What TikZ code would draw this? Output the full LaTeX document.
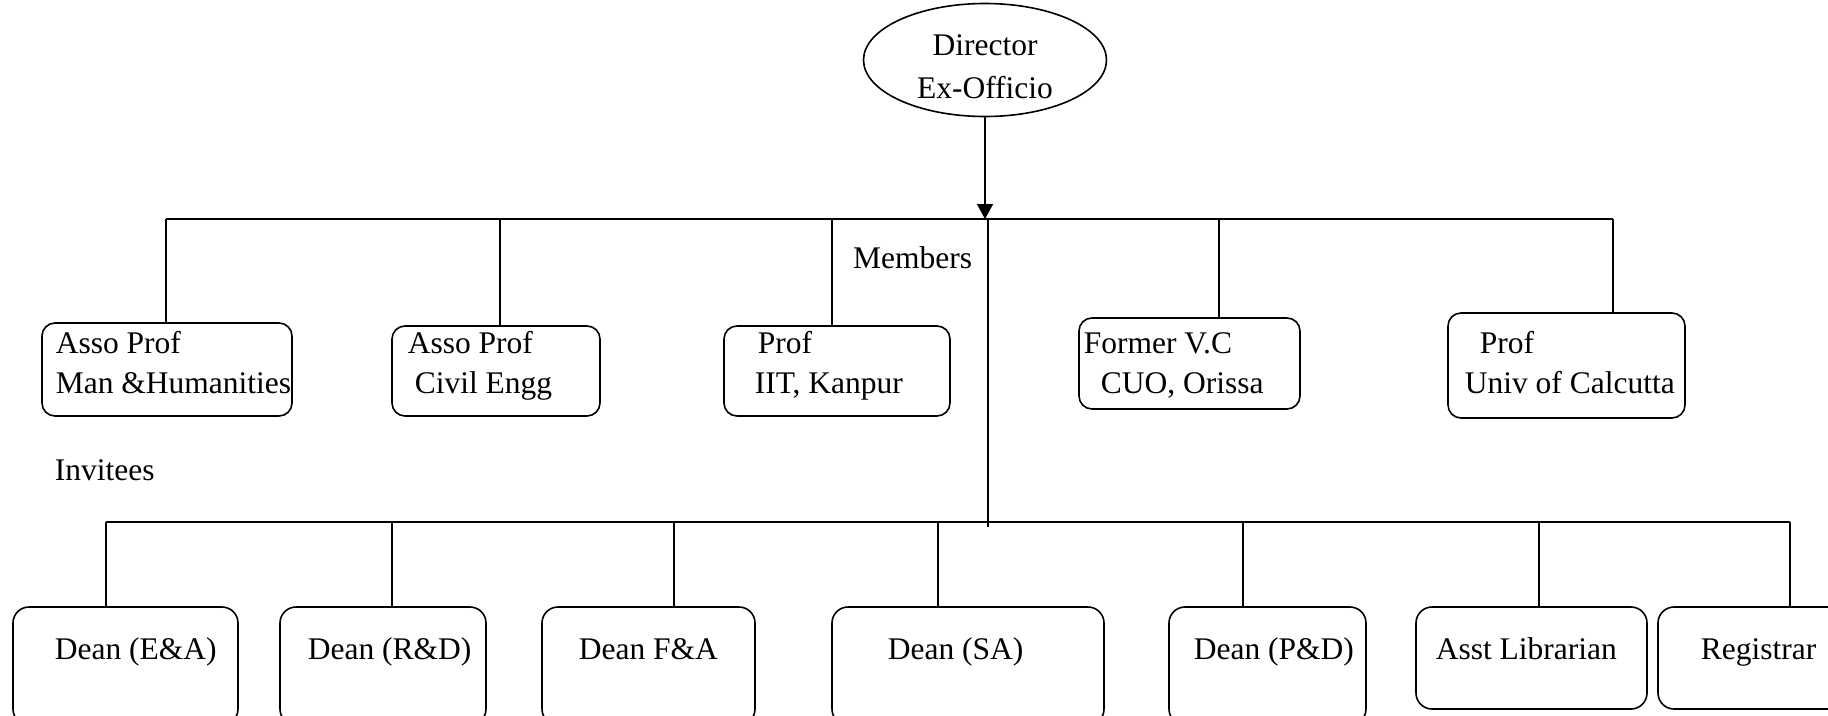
\documentclass[tikz,border=0pt]{standalone}
\usepackage{fontspec}
\setmainfont{Liberation Serif}
\usetikzlibrary{arrows.meta,shapes.geometric}

\begin{document}
\begin{tikzpicture}[x=1pt,y=-1pt,
  line width=1.6pt,
  txt/.style={anchor=base west, inner sep=0pt, font=\fontsize{31.5}{40}\selectfont},
  ctxt/.style={txt, anchor=base},
  box/.style={draw, rounded corners=13pt, inner sep=0pt, outer sep=0pt},
  dbox/.style={box, rounded corners=16pt, minimum height=118pt},
  link/.style={line width=1.5pt},
  arr/.style={link, -{Triangle[length=15pt,width=16pt]}},
]
\useasboundingbox (0,0) rectangle (1828,715);
\clip (0,0) rectangle (1828,715);

% head of the committee
\node[draw, ellipse, minimum width=243pt, minimum height=113pt, inner sep=0pt, outer sep=0pt] (dir) at (985,60) {};
\node[ctxt] (dirA) at (985,55) {Director};
\node[ctxt] (dirB) at (985,98) {Ex-Officio};

% members
\node[box, minimum width=250pt, minimum height=93pt] (m1) at (167,369.5) {};
\node[box, minimum width=208pt, minimum height=90pt] (m2) at (496,371) {};
\node[box, minimum width=226pt, minimum height=90pt] (m3) at (837,371) {};
\node[box, minimum width=221pt, minimum height=91pt] (m4) at (1189.5,363.5) {};
\node[box, minimum width=237pt, minimum height=105pt] (m5) at (1566.5,365.5) {};

\node[txt] (m1a) at (55,353) {Asso Prof};
\node[txt] (m1b) at (55,393) {Man \&Humanities};
\node[txt] (m2a) at (407,353) {Asso Prof};
\node[txt] (m2b) at (414,393) {Civil Engg};
\node[txt] (m3a) at (757,353) {Prof};
\node[txt] (m3b) at (754,393) {IIT, Kanpur};
\node[txt] (m4a) at (1083,353) {Former V.C};
\node[txt] (m4b) at (1100,393) {CUO, Orissa};
\node[txt] (m5a) at (1479,353) {Prof};
\node[txt] (m5b) at (1464,393) {Univ of Calcutta};

\node[txt, anchor=base east] (memlbl) at (973,268) {Members};
\node[txt] (invlbl) at (54,480) {Invitees};

% invitees
\node[dbox, minimum width=225pt] (d1) at (125.5,666) {};
\node[dbox, minimum width=206pt] (d2) at (383,666) {};
\node[dbox, minimum width=213pt] (d3) at (648.5,666) {};
\node[dbox, minimum width=272pt] (d4) at (968,666) {};
\node[dbox, minimum width=197pt] (d5) at (1267.5,666) {};
\node[dbox, minimum width=231pt, minimum height=102pt] (d6) at (1531.5,658) {};
\node[dbox, minimum width=212pt, minimum height=102pt] (d7) at (1764,658) {};

\node[txt] (d1t) at (54,659) {Dean (E\&A)};
\node[txt] (d2t) at (307,659) {Dean (R\&D)};
\node[txt] (d3t) at (578,659) {Dean F\&A};
\node[txt] (d4t) at (887,659) {Dean (SA)};
\node[txt] (d5t) at (1193,659) {Dean (P\&D)};
\node[txt] (d6t) at (1435,659) {Asst Librarian};
\node[txt] (d7t) at (1700,659) {Registrar};

% junction points on the two bars
\coordinate (jt) at (985,219);
\coordinate (ct) at (988,219);
\coordinate (cb) at (988,527);
\coordinate (t1) at (166,219);
\coordinate (t2) at (500,219);
\coordinate (t3) at (832,219);
\coordinate (t4) at (1219,219);
\coordinate (t5) at (1613,219);
\coordinate (b1) at (106,522);
\coordinate (b2) at (392,522);
\coordinate (b3) at (674,522);
\coordinate (b4) at (938,522);
\coordinate (b5) at (1243,522);
\coordinate (b6) at (1539,522);
\coordinate (b7) at (1790,522);

% connectors
\draw[arr] (dir.south) -- (jt);
\draw[link] (t1) -- (t5);
\draw[link] (ct) -- (cb);
\draw[link] (b1) -- (b7);
\foreach \i in {1,...,5} \draw[link] (t\i) -- (t\i |- m\i.north);
\foreach \i in {1,...,7} \draw[link] (b\i) -- (b\i |- d\i.north);
\end{tikzpicture}
\end{document}
